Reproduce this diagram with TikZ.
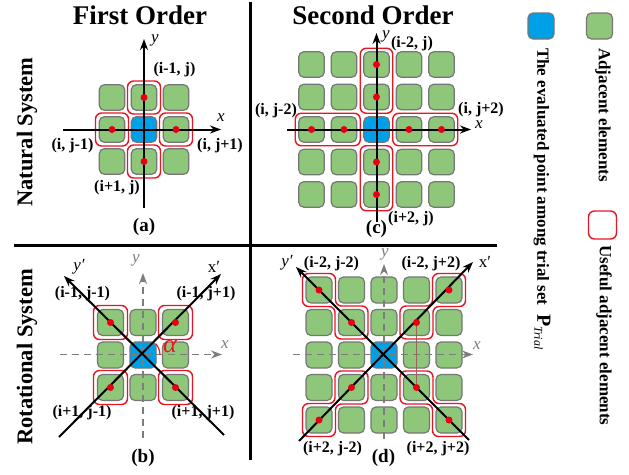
\documentclass[tikz,border=0pt]{standalone}
\usepackage{fontspec}
\setmainfont{Liberation Serif}
\usetikzlibrary{arrows.meta,fit}
\definecolor{sqgreen}{RGB}{142,199,121}
\definecolor{sqgray}{RGB}{118,118,118}
\definecolor{ptblue}{RGB}{0,160,233}
\definecolor{usered}{RGB}{232,22,34}
\definecolor{dotred}{RGB}{232,0,18}
\definecolor{axgray}{RGB}{125,125,125}
\definecolor{thinbrown}{RGB}{150,100,90}
\tikzset{
  elem/.style={draw=sqgray, line width=1.2pt, fill=sqgreen, rounded corners=5pt, minimum size=25.5pt, inner sep=0pt, outer sep=0pt},
  evalpt/.style={elem, fill=ptblue},
  usefulbox/.style={draw=usered, line width=1.4pt, rounded corners=6pt, minimum size=33pt, inner sep=0pt},
  usefulfit/.style={draw=usered, line width=1.4pt, rounded corners=6pt, inner sep=3.5pt},
  usefulpath/.style={draw=usered, line width=1.4pt, rounded corners=6pt},
  reddot/.style={circle, fill=dotred, inner sep=0pt, minimum size=7pt},
  blackaxis/.style={line width=2pt, -{Stealth[length=11pt,width=8pt]}},
  grayaxis/.style={draw=axgray, line width=1.6pt, dash pattern=on 7pt off 5pt, -{Stealth[length=11pt,width=8pt]}},
  lbl/.style={font=\fontsize{16}{18}\selectfont\bfseries, inner sep=0pt},
  titletxt/.style={font=\fontsize{27}{30}\selectfont\bfseries, inner sep=0pt},
  sublbl/.style={font=\fontsize{19}{21}\selectfont\bfseries, inner sep=0pt},
  sidelbl/.style={font=\fontsize{22.5}{25}\selectfont\bfseries, inner sep=0pt, rotate=90},
  axlbl/.style={font=\fontsize{17}{19}\selectfont\itshape, inner sep=0pt},
  axlblup/.style={font=\fontsize{17}{19}\selectfont, inner sep=0pt},
  grylbl/.style={axlbl, text=axgray},
  legtxt/.style={font=\fontsize{17}{19}\selectfont\bfseries, inner sep=0pt, rotate=-90, anchor=west},
  sepline/.style={line width=3pt},
  thinline/.style={draw=thinbrown, line width=0.8pt},
  alphaarc/.style={draw=usered, line width=1.2pt},
}
\newcommand\stairdr[4]{%
 \draw[usefulpath] ({#1},{#2-16.5}) -- ({#1+16.5},{#2-16.5}) -- ({#1+16.5},{#4-16.5}) -- ({#3+16.5},{#4-16.5}) -- ({#3+16.5},{#4+16.5}) -- ({#3-16.5},{#4+16.5}) -- ({#3-16.5},{#2+16.5}) -- ({#1-16.5},{#2+16.5}) -- ({#1-16.5},{#2-16.5}) -- cycle;}
\newcommand\stairdl[4]{%
 \draw[usefulpath] ({#1},{#2-16.5}) -- ({#1+16.5},{#2-16.5}) -- ({#1+16.5},{#2+16.5}) -- ({#3+16.5},{#2+16.5}) -- ({#3+16.5},{#4+16.5}) -- ({#3-16.5},{#4+16.5}) -- ({#3-16.5},{#4-16.5}) -- ({#1-16.5},{#4-16.5}) -- ({#1-16.5},{#2-16.5}) -- cycle;}
\begin{document}
\begin{tikzpicture}[x=1pt,y=-1pt]
\useasboundingbox (0,0) rectangle (629,474);
\fill[white] (0,0) rectangle (629,474);

% separators
\coordinate (vt) at (250,2); \coordinate (vb) at (250,460);
\coordinate (hl) at (14,245); \coordinate (hr) at (497,245);
\draw[sepline] (vt) -- (vb);
\draw[sepline] (hl) -- (hr);

% titles
\node[titletxt] (t1) at (140,15.5) {First Order};
\node[titletxt] (t2) at (373,15) {Second Order};
\node[sidelbl] (s1) at (27,132) {Natural System};
\node[sidelbl] (s2) at (27,357) {Rotational System};

% ---------- panel (a)
\foreach \i in {-1,0,1}{\foreach \j in {-1,0,1}{
  \pgfmathtruncatemacro\rr{abs(\i)+abs(\j)}
  \ifnum\rr=0
    \node[evalpt] (a\i\j) at ({144+32*\j},{129.5+32*\i}) {};
  \else
    \node[elem] (a\i\j) at ({144+32*\j},{129.5+32*\i}) {};
  \fi}}
\foreach \n in {-10,0-1,01,10} \node[usefulbox] (ua\n) at (a\n) {};
\coordinate (ax0) at (63,129.5); \coordinate (ax1) at (221,129.5);
\coordinate (ay0) at (144,208); \coordinate (ay1) at (144,39);
\draw[blackaxis] (ax0) -- (ax1);
\draw[blackaxis] (ay0) -- (ay1);
\foreach \n in {-10,0-1,01,10} \node[reddot] (da\n) at (a\n) {};
\node[axlbl] (alx) at (221,118) {x};
\node[axlbl] (aly) at (155,40) {y};
\node[lbl] (la1) at (174.5,70) {(i-1, j)};
\node[lbl] (la2) at (72.5,146) {(i, j-1)};
\node[lbl] (la3) at (220,146) {(i, j+1)};
\node[lbl] (la4) at (117,188) {(i+1, j)};
\node[sublbl] (pa) at (144,227) {(a)};

% ---------- panel (c)
\foreach \i in {-2,...,2}{\foreach \j in {-2,...,2}{
  \pgfmathtruncatemacro\rr{abs(\i)+abs(\j)}
  \ifnum\rr=0
    \node[evalpt] (c\i\j) at ({376.5+32.5*\j},{129.5+32.5*\i}) {};
  \else
    \node[elem] (c\i\j) at ({376.5+32.5*\j},{129.5+32.5*\i}) {};
  \fi}}
\node[usefulfit, fit=(c-20)(c-10)] (uc1) {};
\node[usefulfit, fit=(c10)(c20)] (uc2) {};
\node[usefulfit, fit=(c0-2)(c0-1)] (uc3) {};
\node[usefulfit, fit=(c01)(c02)] (uc4) {};
\coordinate (cx0) at (287,129.5); \coordinate (cx1) at (471,129.5);
\coordinate (cy0) at (376.5,222); \coordinate (cy1) at (376.5,33);
\draw[blackaxis] (cx0) -- (cx1);
\draw[blackaxis] (cy0) -- (cy1);
\foreach \n in {-20,-10,10,20,0-2,0-1,01,02} \node[reddot] (dc\n) at (c\n) {};
\node[axlbl] (clx) at (479,125) {x};
\node[axlbl] (cly) at (386,36) {y};
\node[lbl] (lc1) at (412,44) {(i-2, j)};
\node[lbl] (lc2) at (276,111) {(i, j-2)};
\node[lbl] (lc3) at (481,110) {(i, j+2)};
\node[lbl] (lc4) at (411,219) {(i+2, j)};
\node[sublbl] (pc) at (376.5,229) {(c)};

% ---------- panel (b)
\foreach \i in {-1,0,1}{\foreach \j in {-1,0,1}{
  \pgfmathtruncatemacro\rr{abs(\i)+abs(\j)}
  \ifnum\rr=0
    \node[evalpt, minimum size=26pt] (b\i\j) at ({143+32.5*\j},{355+32.5*\i}) {};
  \else
    \node[elem, minimum size=26pt] (b\i\j) at ({143+32.5*\j},{355+32.5*\i}) {};
  \fi}}
\foreach \n in {-1-1,-11,1-1,11} \node[usefulbox, minimum size=34pt] (ub\n) at (b\n) {};
\coordinate (bx0) at (60,354.5); \coordinate (bx1) at (222,354.5);
\coordinate (by0) at (143,438); \coordinate (by1) at (143,273);
\draw[grayaxis] (bx0) -- (bx1);
\draw[grayaxis] (by0) -- (by1);
\node[lbl] (lb1) at (82.5,294) {(i-1, j-1)};
\node[lbl] (lb2) at (206,294) {(i-1, j+1)};
\node[lbl] (lb3) at (82,413) {(i+1, j-1)};
\node[lbl] (lb4) at (203,413) {(i+1, j+1)};
\coordinate (bp0) at (59,437); \coordinate (bp1) at (221,274);
\coordinate (bq0) at (224,435); \coordinate (bq1) at (64,276);
\draw[blackaxis] (bp0) -- (bp1);
\draw[blackaxis] (bq0) -- (bq1);
\foreach \n in {-1-1,-11,1-1,11} \node[reddot] (db\n) at (b\n) {};
\coordinate (barc) at (160,355);
\draw[alphaarc] (barc) arc[start angle=0, end angle=-42, radius=17];
\node[font=\fontsize{26}{26}\selectfont\itshape, text=usered, inner sep=0pt] (alpha) at (170,346) {α};
\node[grylbl] (blx) at (225,345) {x};
\node[grylbl] (bly) at (136,260) {y};
\node[axlblup] (blxp) at (214,267) {x′};
\node[axlbl] (blyp) at (79,267) {y′};
\node[sublbl] (pb) at (143,458) {(b)};

% ---------- panel (d)
\foreach \i in {-2,...,2}{\foreach \j in {-2,...,2}{
  \pgfmathtruncatemacro\rr{abs(\i)+abs(\j)}
  \ifnum\rr=0
    \node[evalpt, minimum size=26pt] (d\i\j) at ({384+32.5*\j},{355+32.5*\i}) {};
  \else
    \node[elem, minimum size=26pt] (d\i\j) at ({384+32.5*\j},{355+32.5*\i}) {};
  \fi}}
\stairdr{319}{290}{351.5}{322.5}
\stairdr{416.5}{387.5}{449}{420}
\stairdl{449}{290}{416.5}{322.5}
\stairdl{351.5}{387.5}{319}{420}
\coordinate (dx0) at (293,354.5); \coordinate (dx1) at (473,354.5);
\coordinate (dy0) at (384,439); \coordinate (dy1) at (384,264);
\draw[grayaxis] (dx0) -- (dx1);
\draw[grayaxis] (dy0) -- (dy1);
\draw[thinline] (d-11.center) -- (d11.center);
\coordinate (dp0) at (299,441); \coordinate (dp1) at (473,262);
\coordinate (dq0) at (469,440); \coordinate (dq1) at (296,267);
\draw[blackaxis] (dp0) -- (dp1);
\draw[blackaxis] (dq0) -- (dq1);
\foreach \n in {-2-2,-1-1,11,22,-22,-11,1-1,2-2} \node[reddot] (dd\n) at (d\n) {};
\node[lbl] (ld1) at (331.5,264) {(i-2, j-2)};
\node[lbl] (ld2) at (431,264) {(i-2, j+2)};
\node[lbl] (ld3) at (332.5,449) {(i+2, j-2)};
\node[lbl] (ld4) at (438,449) {(i+2, j+2)};
\node[grylbl] (dlx) at (477,346) {x};
\node[grylbl] (dly) at (385,254) {y};
\node[axlblup] (dlxp) at (485,262) {x′};
\node[axlbl] (dlyp) at (287,263) {y′};
\node[sublbl] (pd) at (383.5,458) {(d)};

% ---------- legend
\node[evalpt, minimum size=26pt] (lgb) at (541,26) {};
\node[elem, minimum size=26pt] (lgg) at (599.5,26) {};
\node[usefulbox, minimum size=28pt] (lgr) at (602.5,225) {};
\node[legtxt] (lt1) at (603,48) {Adjacent elements};
\node[legtxt] (lt2) at (604,245) {Useful adjacent elements};
\node[legtxt] (lt3) at (542,48) {The evaluated point among trial set\ \ {\fontsize{20}{20}\selectfont P}\raisebox{-3pt}{\fontsize{12}{12}\selectfont\mdseries\itshape Trial}};
\end{tikzpicture}
\end{document}
